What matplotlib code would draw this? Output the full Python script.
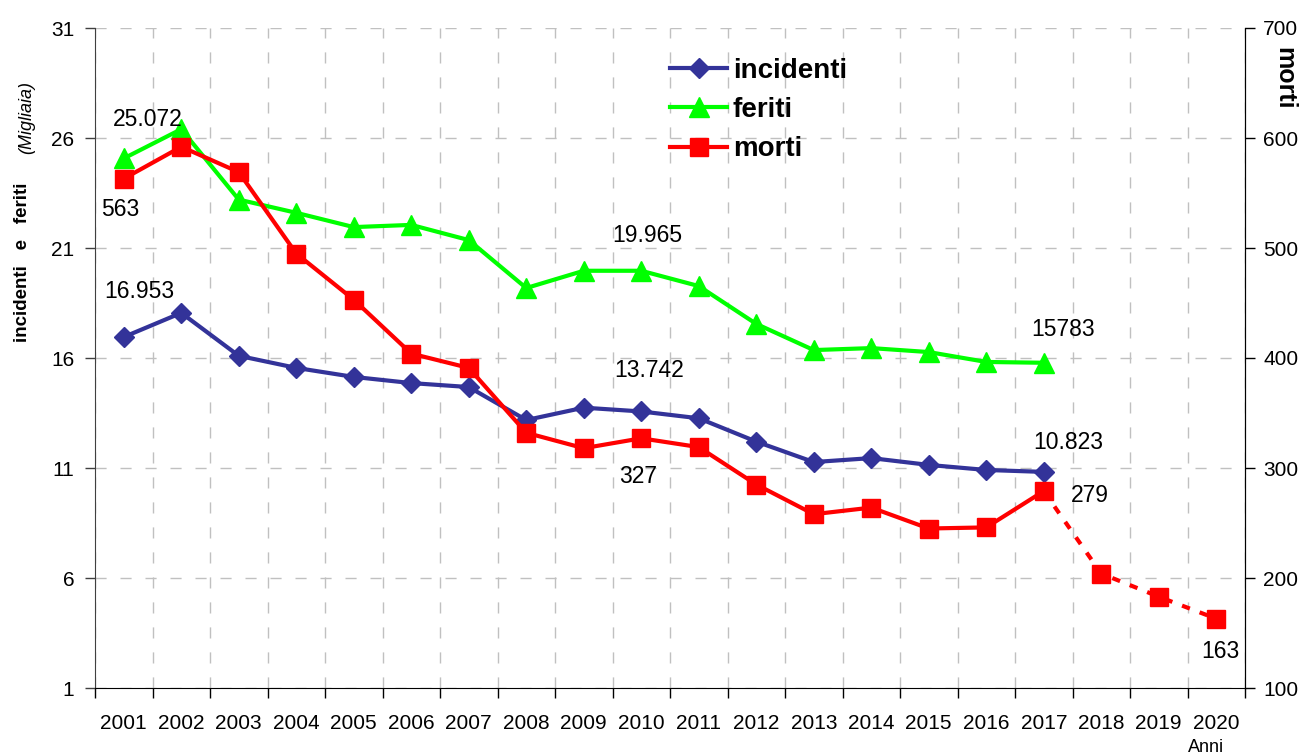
import matplotlib
matplotlib.use("Agg")
import matplotlib.pyplot as plt
import numpy as np

plt.rcParams['font.family'] = ['Liberation Sans', 'DejaVu Sans']

years = ["2001", "2002", "2003", "2004", "2005", "2006", "2007", "2008", "2009", "2010",
         "2011", "2012", "2013", "2014", "2015", "2016", "2017", "2018", "2019", "2020"]
incidenti = [16.953, 18.05, 16.1, 15.55, 15.14, 14.86, 14.68, 13.18, 13.742, 13.57,
             13.26, 12.2, 11.27, 11.45, 11.14, 10.91, 10.823]
feriti = [25.072, 26.4, 23.2, 22.6, 21.95, 22.05, 21.36, 19.18, 19.965, 19.965,
          19.27, 17.55, 16.36, 16.45, 16.27, 15.82, 15.783]
morti = [563, 592, 569, 495, 453, 404, 391, 332, 318, 327,
         319, 285, 258, 264, 245, 246, 279, 204, 183, 163]
n_actual = 17

annotations = [
    ("25.072", 0.42, 26.86), ("563", -0.07, 22.73), ("16.953", 0.27, 19.0),
    ("19.965", 9.11, 21.59), ("13.742", 9.13, 15.42), ("327", 8.95, 10.6),
    ("15783", 16.34, 17.3), ("10.823", 16.43, 12.17), ("279", 16.8, 9.77),
    ("163", 19.08, 2.65),
]

fig = plt.figure(figsize=(13.02, 7.56), dpi=100)
ax = fig.add_axes([95/1302, 68/756, 1150/1302, 660/756])
ax2 = ax.twinx()

x = np.arange(len(years))
xa = x[:n_actual]

c_inc = '#333399'
c_fer = '#00FF00'
c_mor = '#FF0000'

l1, = ax.plot(xa, incidenti, color=c_inc, lw=3, marker='D', ms=10, label='incidenti', zorder=5)
l2, = ax.plot(xa, feriti, color=c_fer, lw=3, marker='^', ms=14, label='feriti', zorder=5)
ax2.plot(x[n_actual-1:], morti[n_actual-1:], color=c_mor, lw=3, ls=(0, (2, 2.5)), zorder=4)
l3, = ax2.plot(xa, morti[:n_actual], color=c_mor, lw=3, marker='s', ms=13, label='morti', zorder=5)
ax2.plot(x[n_actual:], morti[n_actual:], color=c_mor, lw=0, marker='s', ms=13, zorder=5)

ax.set_xlim(-0.5, len(years) - 0.5)
ax.set_ylim(1, 31)
ax2.set_ylim(100, 700)
ax.set_yticks(np.arange(1, 32, 5))
ax2.set_yticks(np.arange(100, 701, 100))

ax.set_xticks(x)
ax.set_xticklabels(years)
ax.set_xticks(np.arange(-0.5, len(years), 1.0), minor=True)
ax.tick_params(axis='x', which='major', length=0, pad=19, labelsize=15)
ax.tick_params(axis='x', which='minor', length=7, width=1, direction='out', color='black')
ax.tick_params(axis='y', length=7, width=1, labelsize=15, pad=8, color='#404040')
ax2.tick_params(axis='y', length=7, width=1, labelsize=15, pad=6)

grid_kw = dict(color='#c0c0c0', lw=1, ls=(0, (8, 10)))
ax.grid(True, axis='x', which='minor', **grid_kw)
ax.grid(True, axis='y', which='major', **grid_kw)
ax.set_axisbelow(True)

for sp in ['top']:
    ax.spines[sp].set_visible(False)
    ax2.spines[sp].set_visible(False)
ax.spines['left'].set_color('#404040')
ax.spines['bottom'].set_color('black')
ax2.spines['right'].set_color('black')
ax2.spines['left'].set_visible(False)
ax2.spines['bottom'].set_visible(False)

for txt, tx, ty in annotations:
    ax.text(tx, ty, txt, ha='center', va='center', fontsize=16.5, zorder=6)

leg = ax2.legend(handles=[l1, l2, l3], loc='upper left', bbox_to_anchor=(0.4905, 0.972),
                 frameon=False, prop={'weight': 'bold', 'size': 20}, handlelength=2.05,
                 handletextpad=0.2, labelspacing=0.48, borderaxespad=0)

fig.text(23/1302, 1 - 262/756, "incidenti   e   feriti", rotation=90, fontsize=13.5,
         fontweight='bold', ha='center', va='center')
fig.text(27/1302, 1 - 118/756, "(Migliaia)", rotation=90, fontsize=13,
         fontstyle='italic', ha='center', va='center')
fig.text(1284/1302, 1 - 78/756, "morti", rotation=-90, fontsize=18,
         fontweight='bold', ha='center', va='center')
fig.text(1206/1302, 1 - 747/756, "Anni", fontsize=13, ha='center', va='center')

fig.savefig("out.png", dpi=100)
